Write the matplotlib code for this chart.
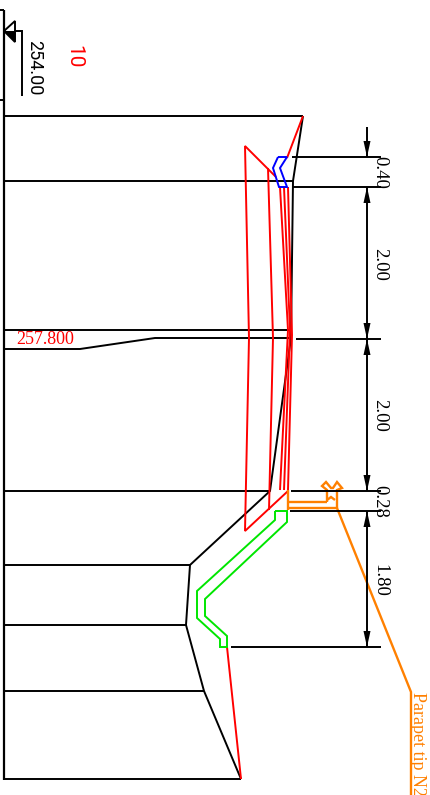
import matplotlib.pyplot as plt

BLACK = "#000000"
RED = "#ff0000"
BLUE = "#0000ff"
GREEN = "#00e600"
ORANGE = "#ff8000"
SERIF = "Liberation Serif"

# everything is read in image pixels, y going down
frame = [(4, 10), (4, 780)]
frame_stubs = [[(0, 10), (4, 10)], [(0, 100), (4, 100)]]
level_rows = [116, 181, 330, 491, 565, 625, 691, 779]
level_ends = [303, 293, 292, 270, 190, 186, 204, 241]
road_line = [(4, 349), (80, 349), (155, 338), (291, 338)]
profile = [(303, 116), (293, 181), (291, 338), (270, 491), (190, 565), (186, 625), (204, 691), (241, 779)]

red_outer = [(276, 177), (245, 146), (249, 338), (245, 531), (288, 491)]
red_inner = [(268, 168), (273, 338), (269, 510)]
red_top = [(303, 116), (287, 158)]
red_left = [(280, 187), (288, 330), (280, 490)]
red_mid = [(284, 187), (290, 330), (284, 490)]
red_right = [(288, 187), (292, 335), (288, 490)]
red_tail = [(227, 647), (241, 779)]

blue_shape = [(278, 157), (287, 157), (280, 168), (287, 187), (279, 187), (273, 168), (278, 157)]

green_shape = [(275, 511), (287, 511), (287, 522), (205, 599), (205, 616), (227, 636), (227, 647),
               (220, 647), (220, 639), (197, 618), (197, 591), (275, 520), (275, 511)]

orange_stem = [(288, 490), (288, 510)]
orange_top = [(288, 502), (327, 502)]
orange_bottom = [(288, 508), (337, 508)]
orange_tip = [(327, 502), (327, 490), (322, 486), (326, 482), (331, 488), (333, 488), (337, 482),
              (342, 488), (337, 490), (337, 508)]
orange_notch = [(327, 500), (331, 497), (335, 500)]
orange_leader = [(337, 508), (411, 692), (411, 795)]

ext_rows = [157, 187, 339, 491, 511, 647]
ext_starts = [292, 293, 296, 291, 290, 231]
dim_spans = [(127, 157), (187, 339), (339, 491), (491, 475), (511, 647)]
# arrow tips on the dimension line, with the side the head opens to
arrow_tips = [157, 187, 339, 339, 491, 511, 647]
arrow_opens = [-1, 1, -1, 1, -1, 1, -1]
dim_labels = ["0.40", "2.00", "2.00", "0.28", "1.80"]
dim_rows = [172, 264, 415, 501, 580]

fig = plt.figure(figsize=(4.3, 7.95), dpi=100)
ax = fig.add_axes([0, 0, 1, 1])
ax.set_xlim(0, 430)
ax.set_ylim(795, 0)
ax.axis("off")


def draw(points, color=BLACK, lw=1.4):
    xs, ys = zip(*points)
    ax.plot(xs, ys, color=color, lw=lw, solid_joinstyle="miter", solid_capstyle="butt")


draw(frame, lw=1.6)
for stub in frame_stubs:
    draw(stub)
for row, end in zip(level_rows, level_ends):
    draw([(4, row), (end, row)])
draw(road_line)
draw(profile)

for part in [red_outer, red_inner, red_top, red_left, red_mid, red_right, red_tail]:
    draw(part, RED)
draw(blue_shape, BLUE)
draw(green_shape, GREEN)
for part in [orange_stem, orange_top, orange_bottom, orange_tip, orange_notch, orange_leader]:
    draw(part, ORANGE, lw=1.7)

# level marker at top left
ax.fill([4, 15, 15], [31, 31, 42], color=BLACK, lw=0)
draw([(4, 31), (15, 21), (15, 42), (4, 31)])
draw([(15, 31), (22, 31), (22, 96)])
ax.text(34, 68, "254.00", rotation=-90, ha="center", va="center", fontsize=13, color=BLACK, family="Roboto")
ax.text(74, 57, "10", rotation=-90, ha="center", va="center", fontsize=15, color=RED, family="Roboto")
ax.text(16, 340, "257.800", ha="left", va="center", fontsize=13, color=RED, family=SERIF)

# dimensions
dim_x = 367
for row, start in zip(ext_rows, ext_starts):
    draw([(start, row), (381, row)])
for top, bottom in dim_spans:
    draw([(dim_x, top), (dim_x, bottom)])
for tip, opens in zip(arrow_tips, arrow_opens):
    ax.fill([dim_x, dim_x - 3.5, dim_x + 3.5], [tip, tip + opens * 16, tip + opens * 16], color=BLACK, lw=0)
for label, row in zip(dim_labels, dim_rows):
    ax.text(380, row, label, rotation=-90, ha="center", va="center", fontsize=13.5, color=BLACK, family=SERIF)

ax.text(413, 692, "Parapet tip N2", rotation=-90, ha="left", va="baseline", fontsize=13, color=ORANGE, family=SERIF,
        rotation_mode="anchor")

fig.savefig("out.png", dpi=100)
